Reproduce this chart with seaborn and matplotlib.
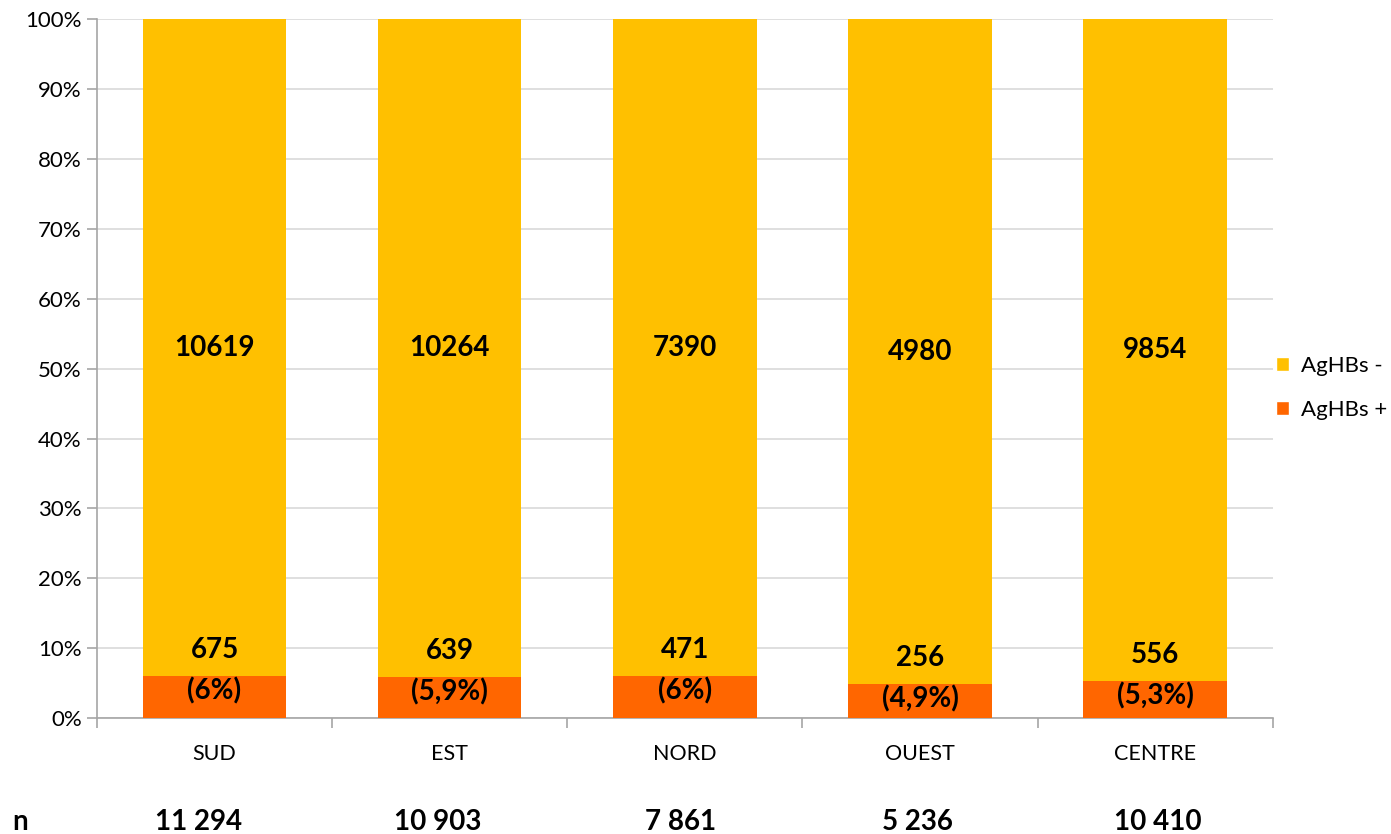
import numpy as np
import pandas as pd
import matplotlib
matplotlib.use("Agg")
import matplotlib.pyplot as plt
import seaborn as sns
from matplotlib.patches import Patch
from matplotlib.ticker import FixedLocator, PercentFormatter
from matplotlib.transforms import offset_copy

regions = ["SUD", "EST", "NORD", "OUEST", "CENTRE"]
pos_counts = [675, 639, 471, 256, 556]
neg_counts = [10619, 10264, 7390, 4980, 9854]
pct_labels = ["(6%)", "(5,9%)", "(6%)", "(4,9%)", "(5,3%)"]

YELLOW = "#FFC000"
ORANGE = "#FF6600"

df = pd.DataFrame({"region": regions, "pos": pos_counts, "neg": neg_counts})
df["n"] = df["pos"] + df["neg"]
df["pct_pos"] = df["pos"] / df["n"] * 100
df["total"] = 100.0

sns.set_style("white")
plt.rcParams["font.family"] = ["Lato", "DejaVu Sans"]
plt.rcParams["text.color"] = "black"

fig = plt.figure(figsize=(13.91, 8.34), dpi=100)
ax = fig.add_axes([0.0697, 0.139, 0.8453, 0.838])

# 100% bar in yellow, positive share drawn over it in orange
sns.barplot(data=df, x="region", y="total", color=YELLOW, width=0.61,
            saturation=1, linewidth=0, ax=ax, zorder=2)
sns.barplot(data=df, x="region", y="pct_pos", color=ORANGE, width=0.61,
            saturation=1, linewidth=0, ax=ax, zorder=3)

ax.set_xlim(-0.5, len(regions) - 0.5)
ax.set_ylim(0, 100)
ax.yaxis.set_major_locator(FixedLocator(np.arange(0, 101, 10)))
ax.yaxis.set_major_formatter(PercentFormatter(decimals=0))
ax.grid(axis="y", color="#D9D9D9", linewidth=1.2, zorder=0)
ax.set_axisbelow(True)
ax.set_xlabel("")
ax.set_ylabel("")

for s in ["top", "right"]:
    ax.spines[s].set_visible(False)
for s in ["left", "bottom"]:
    ax.spines[s].set_color("#A6A6A6")
    ax.spines[s].set_linewidth(1.2)

ax.tick_params(axis="y", direction="out", length=7, width=1.2, color="#A6A6A6",
               labelsize=16, labelcolor="black", pad=4, left=True)
ax.tick_params(axis="x", which="major", length=0, labelsize=15.5,
               labelcolor="black", pad=19)
ax.xaxis.set_minor_locator(FixedLocator(np.arange(-0.5, len(regions), 1)))
ax.tick_params(axis="x", which="minor", direction="out", length=7, width=1.2,
               color="#A6A6A6", bottom=True)

up = offset_copy(ax.transData, fig=fig, x=0, y=26, units="dots")
down = offset_copy(ax.transData, fig=fig, x=0, y=-15, units="dots")
for i, row in df.iterrows():
    ax.text(i, (row["pct_pos"] + 100) / 2, f"{row['neg']}", ha="center", va="center",
            fontsize=20, fontweight="bold", color="black", zorder=4)
    ax.text(i, row["pct_pos"], f"{row['pos']}", transform=up, ha="center",
            va="center", fontsize=20, fontweight="bold", color="black", zorder=4)
    ax.text(i, row["pct_pos"], pct_labels[i], transform=down, ha="center",
            va="center", fontsize=20, fontweight="bold", color="black", zorder=4)

# bottom "n" row (slightly off-centre in the original layout)
n_dx = [-0.07, -0.05, -0.02, -0.01, 0.01]
trans = ax.get_xaxis_transform()
ax.text(-0.86, -0.149, "n", transform=trans, ha="left", va="center",
        fontsize=20, fontweight="bold", color="black")
for i, n in enumerate(df["n"]):
    ax.text(i + n_dx[i], -0.149, f"{n:,}".replace(",", " "), transform=trans,
            ha="center", va="center", fontsize=20, fontweight="bold", color="black")

handles = [Patch(facecolor=YELLOW, label="AgHBs -"),
           Patch(facecolor=ORANGE, label="AgHBs +")]
fig.legend(handles=handles, loc="center left", bbox_to_anchor=(0.903, 0.535),
           frameon=False, fontsize=16, handlelength=0.6, handleheight=0.6,
           handletextpad=0.5, labelspacing=1.1)

fig.savefig("out.png", dpi=100)
